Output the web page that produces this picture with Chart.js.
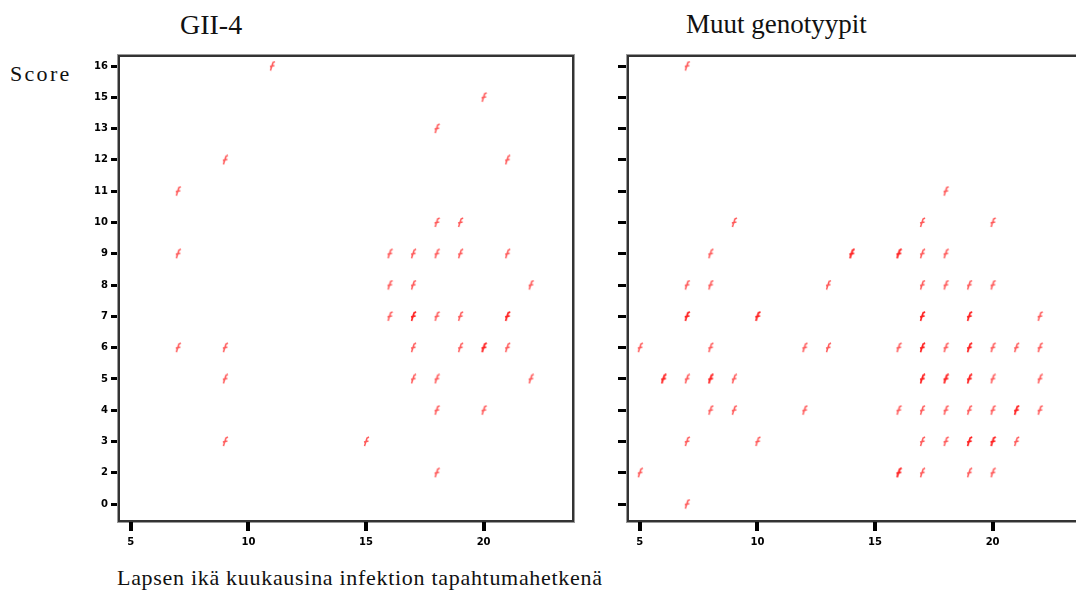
<!DOCTYPE html>
<html lang="fi">
<head>
    <meta charset="UTF-8">
    <title>Score vs. ikä</title>
    <script src="https://cdn.jsdelivr.net/npm/chart.js"></script>
    <style>
        body {
            margin: 0;
            width: 1076px;
            height: 594px;
            overflow: hidden;
            background: #fff;
            position: relative;
            font-family: "Liberation Serif", serif;
        }

        .txt {
            position: absolute;
            line-height: 1;
            white-space: nowrap;
            color: #111;
        }

        canvas {
            position: absolute;
            top: 0;
        }
    </style>
</head>
<body>
<div class="txt" style="left:180px;top:11px;font-size:28px;">GII-4</div>
<div class="txt" style="left:686px;top:11px;font-size:27px;">Muut genotyypit</div>
<div class="txt" style="left:10px;top:63px;font-size:22px;letter-spacing:2.3px;">Score</div>
<div class="txt" style="left:117px;top:567px;font-size:22px;letter-spacing:0.7px;">Lapsen ikä kuukausina infektion tapahtumahetkenä</div>

<canvas id="leftChart" width="590" height="594" style="left:0"></canvas>
<canvas id="rightChart" width="500" height="594" style="left:590px"></canvas>

<script>
    // y axis levels as printed (14 and 1 are not on the axis)
    const yLevels = [0, 2, 3, 4, 5, 6, 7, 8, 9, 10, 11, 12, 13, 15, 16];
    const xTicks = [5, 10, 15, 20];

    // GII-4: age in months, score
    const gii4Age = [11, 20, 18, 9, 21, 7, 18, 19,
        7, 16, 17, 18, 19, 21,
        16, 17, 22,
        16, 17, 17, 18, 19, 21, 21,
        7, 9, 17, 19, 20, 20, 21,
        9, 17, 18, 22,
        18, 20,
        9, 15,
        18];
    const gii4Score = [16, 15, 13, 12, 12, 11, 10, 10,
        9, 9, 9, 9, 9, 9,
        8, 8, 8,
        7, 7, 7, 7, 7, 7, 7,
        6, 6, 6, 6, 6, 6, 6,
        5, 5, 5, 5,
        4, 4,
        3, 3,
        2];

    // muut genotyypit
    const otherAge = [7,
        18,
        9, 17, 20,
        8, 14, 14, 16, 16, 17, 18,
        7, 8, 13, 17, 18, 19, 20,
        7, 7, 10, 10, 17, 17, 19, 19, 22,
        5, 8, 12, 13, 16, 17, 17, 18, 19, 19, 20, 21, 22,
        6, 6, 7, 8, 8, 9, 17, 17, 18, 18, 19, 19, 20, 22,
        8, 9, 12, 16, 17, 18, 19, 20, 21, 21, 22,
        7, 10, 17, 18, 19, 19, 20, 20, 21,
        5, 16, 16, 17, 19, 20,
        7];
    const otherScore = [16,
        11,
        10, 10, 10,
        9, 9, 9, 9, 9, 9, 9,
        8, 8, 8, 8, 8, 8, 8,
        7, 7, 7, 7, 7, 7, 7, 7, 7,
        6, 6, 6, 6, 6, 6, 6, 6, 6, 6, 6, 6, 6,
        5, 5, 5, 5, 5, 5, 5, 5, 5, 5, 5, 5, 5, 5,
        4, 4, 4, 4, 4, 4, 4, 4, 4, 4, 4,
        3, 3, 3, 3, 3, 3, 3, 3, 3,
        2, 2, 2, 2, 2, 2,
        0];

    // small red "f"-like marker
    function makeMarker() {
        const c = document.createElement('canvas');
        c.width = 8;
        c.height = 11;
        const g = c.getContext('2d');
        g.strokeStyle = 'rgba(255, 0, 0, 0.65)';
        g.lineWidth = 1.5;
        g.beginPath();
        g.moveTo(2.5, 10);
        g.lineTo(5, 2);
        g.lineTo(7, 1);
        g.moveTo(2, 6);
        g.lineTo(6.5, 5);
        g.stroke();
        return c;
    }

    const marker = makeMarker();

    const boxPlugin = {
        id: 'box',
        afterDraw(chart) {
            const a = chart.chartArea;
            const ctx = chart.ctx;
            ctx.save();
            ctx.strokeStyle = '#9a9a9a';
            ctx.lineWidth = 1;
            ctx.strokeRect(a.left - 1.5, a.top - 1.5, a.width + 3, a.height + 3);
            ctx.strokeStyle = '#333';
            ctx.lineWidth = 2;
            ctx.strokeRect(a.left, a.top, a.width, a.height);
            // x tick marks under the box
            const xs = chart.scales.x;
            ctx.fillStyle = '#000';
            for (const v of xTicks) {
                const px = Math.round(xs.getPixelForValue(v));
                ctx.fillRect(px - 2, a.bottom + 1, 4, 9);
            }
            ctx.restore();
        }
    };

    function toPoints(ages, scores) {
        return ages.map((a, i) => ({x: a, y: yLevels.indexOf(scores[i])}));
    }

    const tickFont = {family: 'DejaVu Sans', size: 10, weight: 'bold'};

    function createChart(ctx, ages, scores, showYLabels, yAxisWidth, padRight, yTick) {
        return new Chart(ctx, {
            type: 'scatter',
            data: {
                datasets: [{
                    data: toPoints(ages, scores),
                    pointStyle: marker,
                    radius: 5,
                }]
            },
            plugins: [boxPlugin],
            options: {
                responsive: false,
                animation: false,
                layout: {padding: {top: 56, left: 0, right: padRight, bottom: 0}},
                plugins: {legend: {display: false}, tooltip: {enabled: false}},
                scales: {
                    x: {
                        type: 'linear',
                        min: 4.5,
                        max: 23.8,
                        afterBuildTicks: s => { s.ticks = xTicks.map(v => ({value: v})); },
                        afterFit: s => { s.height = 594 - 521; },
                        border: {display: false},
                        grid: {drawOnChartArea: false, drawTicks: false},
                        ticks: {color: '#000', font: tickFont, padding: 15, maxRotation: 0}
                    },
                    y: {
                        type: 'linear',
                        min: -0.54,
                        max: 14.32,
                        afterBuildTicks: s => { s.ticks = yLevels.map((_, i) => ({value: i})); },
                        afterFit: s => { s.width = yAxisWidth; },
                        border: {display: false},
                        grid: Object.assign({drawOnChartArea: false, tickWidth: 3, tickColor: '#000'}, yTick),
                        ticks: {
                            color: '#000',
                            font: tickFont,
                            padding: 3,
                            callback: v => showYLabels ? String(yLevels[v]) : ''
                        }
                    }
                }
            }
        });
    }

    createChart(document.getElementById('leftChart'), gii4Age, gii4Score, true, 119, 17,
        {tickLength: 8});
    createChart(document.getElementById('rightChart'), otherAge, otherScore, false, 38, 8,
        {tickLength: 15, tickBorderDash: [0, 5, 10, 0]});
</script>
</body>
</html>
